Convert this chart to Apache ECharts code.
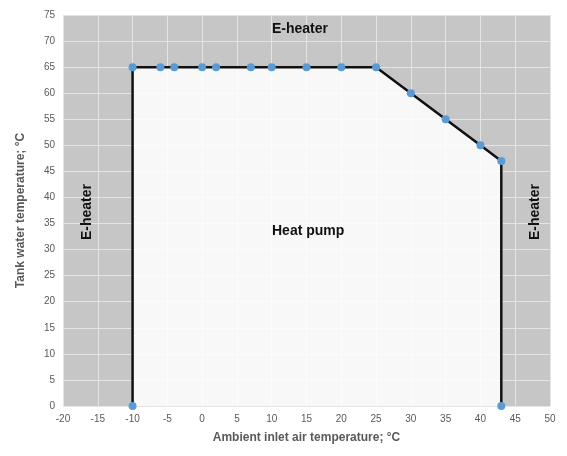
<!DOCTYPE html><html><head><meta charset="utf-8"><script src="https://cdn.jsdelivr.net/npm/echarts@6/dist/echarts.min.js"></script></head><body style="margin:0"><div id="c" style="width:567px;height:456px"></div><script>
const xs=[-10,-10,-6,-4,0,2,7,10,15,20,25,30,35,40,43,43];
const ys=[0,65,65,65,65,65,65,65,65,65,65,60,55,50,47,0];
const ch=echarts.init(document.getElementById('c'));
const lab={color:'#595959',fontSize:10,fontFamily:'Liberation Sans'};
ch.setOption({animation:false,
grid:{left:63,right:17,top:15,bottom:50,show:true,backgroundColor:'#c6c6c6',borderWidth:0},
xAxis:{type:'value',min:-20,max:50,interval:5,name:'Ambient inlet air temperature; \u00b0C',nameLocation:'middle',nameGap:26,nameTextStyle:{color:'#595959',fontWeight:'bold',fontSize:12,fontFamily:'Liberation Sans'},axisLabel:lab,axisLine:{show:false},axisTick:{show:false},splitLine:{lineStyle:{color:'#e4e4e4'}}},
yAxis:{type:'value',min:0,max:75,interval:5,name:'Tank water temperature; \u00b0C',nameLocation:'middle',nameGap:36,nameTextStyle:{color:'#595959',fontWeight:'bold',fontSize:12,fontFamily:'Liberation Sans'},axisLabel:lab,axisLine:{show:false},axisTick:{show:false},splitLine:{lineStyle:{color:'#e4e4e4'}}},
series:[{type:'line',data:xs.map((x,i)=>[x,ys[i]]),symbol:'circle',symbolSize:8,itemStyle:{color:'#5b9bd5'},lineStyle:{color:'#111',width:2.5},areaStyle:{color:'#fff',opacity:0.88,origin:'start'},z:3}],
graphic:[
{type:'text',z:100,left:272,top:22,style:{text:'E-heater',font:'bold 14px Liberation Sans',fill:'#111'}},
{type:'text',z:100,left:272,top:224,style:{text:'Heat pump',font:'bold 14px Liberation Sans',fill:'#111'}},
{type:'text',z:100,x:80,y:240,rotation:Math.PI/2,style:{text:'E-heater',font:'bold 14px Liberation Sans',fill:'#111'}},
{type:'text',z:100,x:528,y:240,rotation:Math.PI/2,style:{text:'E-heater',font:'bold 14px Liberation Sans',fill:'#111'}}
]});
</script></body></html>
